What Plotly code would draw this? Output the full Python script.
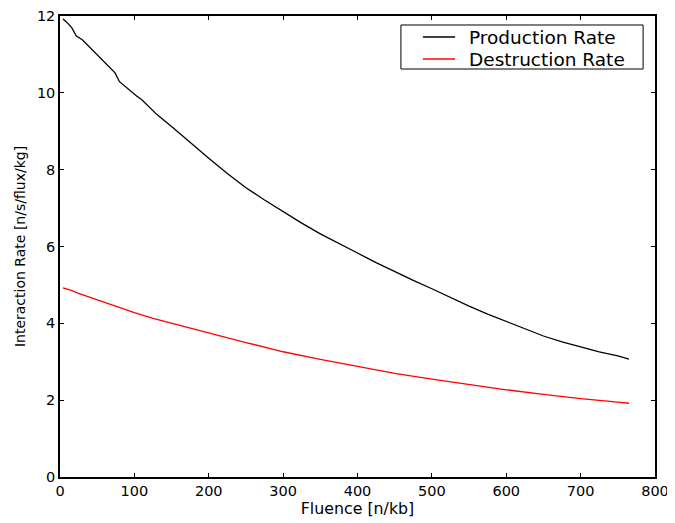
import plotly.graph_objects as go

prod_x = [4, 10, 16, 22, 30, 50, 74, 80, 90, 97, 103, 110, 130, 152, 175, 200, 225, 250, 275, 300, 325, 350, 375, 400, 425, 450, 475, 500, 525, 550, 575, 600, 625, 650, 675, 700, 725, 750, 765]
prod_y = [11.92, 11.82, 11.69, 11.48, 11.38, 11.0, 10.52, 10.29, 10.12, 10.0, 9.92, 9.82, 9.44, 9.09, 8.70, 8.30, 7.90, 7.53, 7.21, 6.90, 6.61, 6.33, 6.07, 5.83, 5.58, 5.34, 5.12, 4.90, 4.67, 4.45, 4.24, 4.05, 3.85, 3.67, 3.52, 3.38, 3.26, 3.15, 3.07]

dest_x = [4, 15, 25, 50, 75, 100, 125, 150, 175, 200, 250, 300, 350, 400, 450, 500, 550, 600, 650, 700, 750, 765]
dest_y = [4.92, 4.86, 4.78, 4.61, 4.43, 4.28, 4.13, 4.00, 3.87, 3.75, 3.50, 3.26, 3.06, 2.88, 2.70, 2.55, 2.41, 2.27, 2.15, 2.04, 1.95, 1.92]

series_names = ["Production Rate", "Destruction Rate"]
series_colors = ["black", "red"]

x_ticks = [0, 100, 200, 300, 400, 500, 600, 700, 800]
y_ticks = [0, 2, 4, 6, 8, 10, 12]

font = "DejaVu Sans"

fig = go.Figure()
fig.add_trace(go.Scatter(x=prod_x, y=prod_y, mode="lines", name=series_names[0],
                         line=dict(color=series_colors[0], width=1.3)))
fig.add_trace(go.Scatter(x=dest_x, y=dest_y, mode="lines", name=series_names[1],
                         line=dict(color=series_colors[1], width=1.3)))

axis_common = dict(showgrid=False, zeroline=False, showline=True, linecolor="black", linewidth=1.5,
                   mirror="allticks", ticks="inside", ticklen=4, tickwidth=1, tickcolor="black",
                   automargin=False, ticklabeloverflow="allow",
                   tickfont=dict(family=font, size=14.5, color="black"))

fig.update_xaxes(range=[0, 800], tickvals=x_ticks, ticktext=[str(v) for v in x_ticks],
                 title=dict(text="Fluence [n/kb]", font=dict(family=font, size=15.8, color="black"), standoff=3),
                 **axis_common)
fig.update_yaxes(range=[0, 12], tickvals=y_ticks, ticktext=[str(v) for v in y_ticks],
                 title=dict(text="Interaction Rate [n/s/flux/kg]", font=dict(family=font, size=14, color="black"), standoff=8),
                 **axis_common)

# Legend drawn in paper coordinates (matplotlib-style box)
shapes = [dict(type="rect", xref="paper", yref="paper", x0=0.573, x1=0.980, y0=0.885, y1=0.9805,
               line=dict(color="black", width=1), fillcolor="white", layer="above")]
annotations = []
legend_rows_y = [0.9544, 0.9067]
for name, color, ly in zip(series_names, series_colors, legend_rows_y):
    shapes.append(dict(type="line", xref="paper", yref="paper", x0=0.610, x1=0.664, y0=ly, y1=ly,
                       line=dict(color=color, width=1.3), layer="above"))
    annotations.append(dict(text=name, xref="paper", yref="paper", x=0.684, y=ly,
                            xanchor="left", yanchor="middle", showarrow=False,
                            font=dict(family=font, size=18.5, color="black")))

fig.update_layout(
    width=667, height=515,
    margin=dict(l=52, r=20, t=8, b=46),
    plot_bgcolor="white", paper_bgcolor="white",
    font=dict(family=font, color="black"),
    showlegend=False,
    shapes=shapes,
    annotations=annotations,
)

fig.write_html("out.html")
